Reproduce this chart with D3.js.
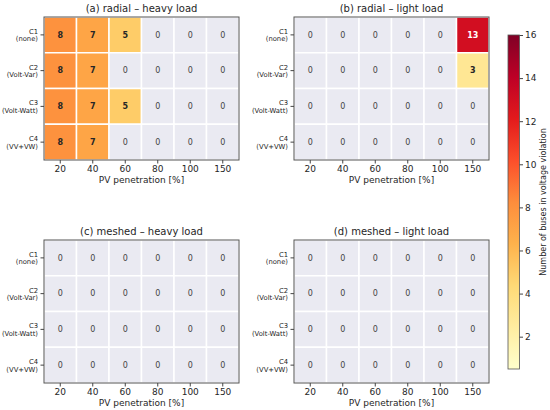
<!DOCTYPE html>
<head>
  <meta charset="utf-8">
  <style>
    body { margin: 0; background: #fff; }
    svg text { font-family: "DejaVu Sans", sans-serif; fill: #262626; }
    .title { font-size: 10px; }
    .xlab { font-size: 9px; }
    .tick text { font-size: 9px; }
    .y-axis .tick text { font-size: 6.8px; }
    .tick line { stroke: #444; }
    .domain { display: none; }
  </style>
</head>
<body>
<script src="https://d3js.org/d3.v7.min.js"></script>
<script>
  // data
  var pvLevels = ["20", "40", "60", "80", "100", "150"];
  var controls = [["C1", "(none)"], ["C2", "(Volt-Var)"], ["C3", "(Volt-Watt)"], ["C4", "(VV+VW)"]];
  var titles = ["(a) radial \u2013 heavy load", "(b) radial \u2013 light load",
                "(c) meshed \u2013 heavy load", "(d) meshed \u2013 light load"];
  var radialHeavy = [[8, 7, 5, 0, 0, 0],
                     [8, 7, 0, 0, 0, 0],
                     [8, 7, 5, 0, 0, 0],
                     [8, 7, 0, 0, 0, 0]];
  var radialLight = [[0, 0, 0, 0, 0, 13],
                     [0, 0, 0, 0, 0, 3],
                     [0, 0, 0, 0, 0, 0],
                     [0, 0, 0, 0, 0, 0]];
  var meshedHeavy = [[0, 0, 0, 0, 0, 0],
                     [0, 0, 0, 0, 0, 0],
                     [0, 0, 0, 0, 0, 0],
                     [0, 0, 0, 0, 0, 0]];
  var meshedLight = [[0, 0, 0, 0, 0, 0],
                     [0, 0, 0, 0, 0, 0],
                     [0, 0, 0, 0, 0, 0],
                     [0, 0, 0, 0, 0, 0]];
  var cbTicks = [2, 4, 6, 8, 10, 12, 14, 16];
  var vmin = 0.5, vmax = 16;
  // YlOrRd stops (matplotlib interpolates these linearly)
  var ylorrd = ["#ffffcc", "#ffeda0", "#fed976", "#feb24c", "#fd8d3c",
                "#fc4e2a", "#e31a1c", "#bd0026", "#800026"];

  var panels = [radialHeavy, radialLight, meshedHeavy, meshedLight];
  var origins = [[44, 17], [294, 17], [44, 240], [294, 240]];
  var pw = 195, ph = 143;

  var color = d3.scaleLinear()
      .domain(ylorrd.map(function(c, i) { return vmin + i * (vmax - vmin) / (ylorrd.length - 1); }))
      .range(ylorrd)
      .clamp(true);

  var svg = d3.select("body").append("svg")
      .attr("width", 550)
      .attr("height", 410);

  var xScale = d3.scaleBand().domain(pvLevels).range([0, pw]);
  var yScale = d3.scaleBand().domain(d3.range(controls.length)).range([0, ph]);

  panels.forEach(function(mat, p) {
    var g = svg.append("g")
        .attr("transform", "translate(" + origins[p][0] + "," + origins[p][1] + ")");

    var cells = [];
    mat.forEach(function(row, r) {
      row.forEach(function(v, c) { cells.push({ r: r, c: pvLevels[c], v: v }); });
    });

    g.selectAll("rect.cell")
      .data(cells)
      .enter().append("rect")
        .attr("class", "cell")
        .attr("x", function(d) { return xScale(d.c); })
        .attr("y", function(d) { return yScale(d.r); })
        .attr("width", xScale.bandwidth())
        .attr("height", yScale.bandwidth())
        .style("fill", function(d) { return d.v > 0 ? color(d.v) : "#eaeaf2"; })
        .style("stroke", "#fff")
        .style("stroke-width", "1.5px");

    g.selectAll("text.val")
      .data(cells)
      .enter().append("text")
        .attr("class", "val")
        .attr("x", function(d) { return xScale(d.c) + xScale.bandwidth() / 2; })
        .attr("y", function(d) { return yScale(d.r) + yScale.bandwidth() / 2; })
        .attr("dy", "0.35em")
        .style("text-anchor", "middle")
        .style("font-size", "8px")
        .style("font-weight", function(d) { return d.v > 0 ? "bold" : "normal"; })
        .style("fill", function(d) {
          if (d.v === 0) return "#444";
          return d.v > 10 ? "#fff" : "#262626";
        })
        .text(function(d) { return d.v; });

    // frame
    g.append("rect")
        .attr("width", pw)
        .attr("height", ph)
        .style("fill", "none")
        .style("stroke", "#555")
        .style("stroke-width", "1px");

    // x axis
    g.append("g")
        .attr("transform", "translate(0," + ph + ")")
        .call(d3.axisBottom(xScale).tickSize(3.5).tickPadding(2));

    g.append("text")
        .attr("class", "xlab")
        .attr("x", pw / 2)
        .attr("y", ph + 23)
        .style("text-anchor", "middle")
        .text("PV penetration [%]");

    // y axis with two-line labels
    var ya = g.append("g")
        .attr("class", "y-axis")
        .call(d3.axisLeft(yScale).tickSize(3.5).tickPadding(2).tickFormat(""));
    ya.selectAll(".tick").each(function(d) {
      var t = d3.select(this).append("text")
          .attr("x", -6)
          .style("text-anchor", "end");
      t.append("tspan").attr("x", -6).attr("dy", "-0.15em").text(controls[d][0]);
      t.append("tspan").attr("x", -6).attr("dy", "1.1em").text(controls[d][1]);
    });

    g.append("text")
        .attr("class", "title")
        .attr("x", pw / 2)
        .attr("y", -5)
        .style("text-anchor", "middle")
        .text(titles[p]);
  });

  // colorbar
  var cbX = 508, cbW = 11.5, cbTop = 35, cbBot = 369;
  var cbScale = d3.scaleLinear().domain([vmin, vmax]).range([cbBot, cbTop]);

  var grad = svg.append("defs").append("linearGradient")
      .attr("id", "cbgrad")
      .attr("x1", "0").attr("y1", "1").attr("x2", "0").attr("y2", "0");
  ylorrd.forEach(function(c, i) {
    grad.append("stop")
        .attr("offset", i / (ylorrd.length - 1))
        .attr("stop-color", c);
  });

  svg.append("rect")
      .attr("x", cbX)
      .attr("y", cbTop)
      .attr("width", cbW)
      .attr("height", cbBot - cbTop)
      .style("fill", "url(#cbgrad)")
      .style("stroke", "#555")
      .style("stroke-width", "0.8px");

  svg.append("g")
      .attr("transform", "translate(" + (cbX + cbW) + ",0)")
      .call(d3.axisRight(cbScale).tickValues(cbTicks).tickSize(3.5).tickPadding(2));

  svg.append("text")
      .attr("transform", "translate(543," + ((cbTop + cbBot) / 2) + ") rotate(-90)")
      .attr("dy", "0.35em")
      .style("text-anchor", "middle")
      .style("font-size", "8px")
      .text("Number of buses in voltage violation");
</script>
</body>
</html>
